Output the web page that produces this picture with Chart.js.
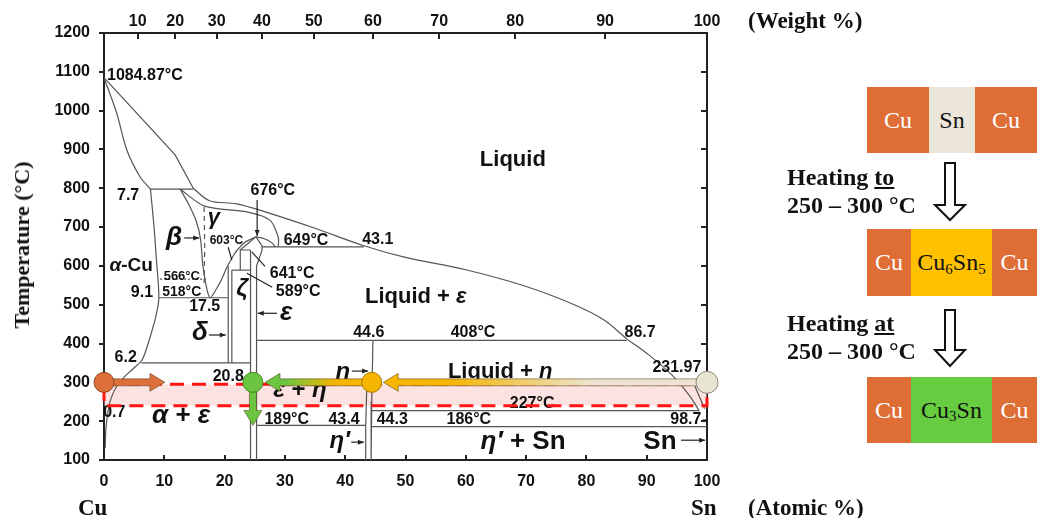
<!DOCTYPE html>
<html>
<head>
<meta charset="utf-8">
<script src="https://cdn.jsdelivr.net/npm/chart.js@4.4.1/dist/chart.umd.min.js"></script>
<style>
  body { margin: 0; background: #fff; width: 1044px; height: 518px; overflow: hidden; position: relative; font-family: "Liberation Serif", serif; color: #111; }
  #chart { position: absolute; left: 0; top: 0; }
  .lbl { position: absolute; font-weight: bold; font-size: 23px; white-space: nowrap; line-height: 1; }
  .ytitle { position: absolute; left: 22px; top: 245px; transform: translate(-50%, -50%) rotate(-90deg); font-weight: bold; font-size: 22px; white-space: nowrap; }
  .box { position: absolute; left: 867px; width: 170px; height: 66px; display: flex; }
  .box div { display: flex; align-items: center; justify-content: center; font-size: 24px; color: #111; }
  .box .cu { background: #de6d36; color: #fff; }
  .cap { position: absolute; left: 787px; font-weight: bold; font-size: 24px; line-height: 28px; white-space: nowrap; }
  sub { font-size: 15px; vertical-align: baseline; position: relative; top: 6px; line-height: 0; }
  svg { position: absolute; left: 0; top: 0; }
</style>
</head>
<body>
<canvas id="chart" width="1044" height="518"></canvas>

<div class="ytitle">Temperature (°C)</div>
<div class="lbl" style="left:748px; top:9px;">(Weight %)</div>
<div class="lbl" style="left:78px; top:496px;">Cu</div>
<div class="lbl" style="left:691px; top:496px;">Sn</div>
<div class="lbl" style="left:748px; top:496px;">(Atomic %)</div>

<div class="box" style="top:87px;">
  <div class="cu" style="width:62px;">Cu</div>
  <div style="width:46px; background:#ece6da;">Sn</div>
  <div class="cu" style="width:62px;">Cu</div>
</div>
<div class="cap" style="top:163px;">Heating <u>to</u><br>250 – 300 °C</div>
<div class="box" style="top:229px; height:67px;">
  <div class="cu" style="width:44px;">Cu</div>
  <div style="width:81px; background:#ffc000;">Cu<sub>6</sub>Sn<sub>5</sub></div>
  <div class="cu" style="width:45px;">Cu</div>
</div>
<div class="cap" style="top:309px;">Heating <u>at</u><br>250 – 300 °C</div>
<div class="box" style="top:377px;">
  <div class="cu" style="width:44px;">Cu</div>
  <div style="width:81px; background:#68cc40;">Cu<sub>3</sub>Sn</div>
  <div class="cu" style="width:45px;">Cu</div>
</div>
<svg width="1044" height="518">
  <polygon points="945,163 955,163 955,205 965,205 950,220 935,205 945,205" fill="#fff" stroke="#111" stroke-width="2"/>
  <polygon points="945,310 955,310 955,350 965,350 950,366 935,350 945,350" fill="#fff" stroke="#111" stroke-width="2"/>
</svg>

<script>
// top axis: weight % ticks placed at their atomic % position
const weightAt = [5.6, 11.8, 18.7, 26.2, 34.8, 44.6, 55.6, 68.2, 83.1, 100];
const weightLabels = ['10', '20', '30', '40', '50', '60', '70', '80', '90', '100'];

// phase boundaries [atomic % Sn, temperature °C]
const liquidusCu = [[0, 1084.87], [11.8, 886], [14.8, 800]];
const liquidusSn = [[14.8, 800], [17.5, 768], [22, 760], [27, 738], [35, 697], [43.1, 652], [50, 622], [60, 590], [70, 547], [78, 500], [83, 460], [86.7, 412], [90, 375], [94, 322], [97, 268], [98.7, 227]];
const solidusCu = [[0, 1084.87], [2.1, 994], [3.8, 898], [6, 829], [7.7, 798]];
const alphaSolvus = [[7.7, 798], [8.3, 700], [8.7, 615], [9.1, 518], [8.6, 470], [7.9, 430], [6.9, 380], [6.2, 355], [4.6, 332], [3.2, 311], [2.1, 290], [1.2, 260], [0.7, 229], [0.3, 177], [0.2, 130]];
const peritectic798 = [[7.7, 798], [14.8, 798]];
const betaGamma = [[12.6, 798], [14.0, 760], [15.3, 715], [16.0, 670], [16.4, 600], [17.0, 545], [17.6, 518], [18.6, 540], [19.5, 565], [20.4, 597], [21.4, 625], [22.1, 641], [23.4, 661], [25.2, 675]];
const domeRight = [[25.2, 675], [26.6, 670], [27.8, 660], [28.4, 649]];
const gammaSolidus = [[12.6, 798], [16.7, 754], [23.7, 739], [27.5, 718], [28.9, 674], [28.9, 649]];
const gammaOrder = [[16.6, 752], [16.7, 650], [16.6, 556]];
const line566 = [[9.3, 566], [17, 566]];
const line518 = [[9.1, 518], [20.6, 518]];
const line350 = [[6.2, 350], [24.3, 350]];
const deltaLeft = [[20.6, 350], [20.6, 600]];
const deltaRight = [[21.2, 350], [21.2, 589]];
const line589 = [[21.2, 589], [24.3, 589]];
const zetaTop = [[22.6, 589], [22.6, 641], [24.3, 641]];
const apexLeft = [[22.6, 641], [25.2, 675]];
const epsLeft = [[24.3, 100], [24.3, 641]];
const epsRight = [[25.3, 100], [25.3, 600], [26.2, 640], [26.2, 652], [25.2, 675]];
const line649 = [[26.2, 649], [43.1, 649]];
const line408 = [[25.3, 408], [86.7, 408]];
const etaRight = [[44.6, 408], [44.4, 250], [44.3, 100]];
const etaLeft = [[43.6, 300], [43.4, 189], [43.4, 100]];
const line189 = [[25.3, 189], [43.4, 189]];
const line227 = [[44.4, 227], [98.7, 227]];
const line186 = [[44.3, 186], [100, 186]];
const snSide = [[98, 290], [99.6, 232]];

// heating path: stage points and arrows
const stageX = [0, 24.7, 44.4, 100];
const stageT = [300, 300, 300, 300];
const arrowFrom = [[0, 300], [100, 300], [44.4, 300], [24.7, 300]];
const arrowTo = [[10.1, 300], [46.3, 300], [26.7, 300], [24.7, 189]];
const bandLow = 240, bandHigh = 295;

const stageFill = ['#dc6f3a', '#6cc540', '#f6b500', '#e8e4d2'];
const stageEdge = ['#8c4520', '#3f8a22', '#a87a00', '#8a877a'];
const arrowColors = [['#dc6f3a', '#dc6f3a'], ['#ebe5d2', '#f6b500'], ['#f6b500', '#6cc540'], ['#6cc540', '#6cc540']];

const boundaries = [
  { pts: liquidusCu }, { pts: liquidusSn, t: 0.35 }, { pts: solidusCu, t: 0.3 },
  { pts: alphaSolvus, t: 0.3 }, { pts: peritectic798 }, { pts: betaGamma, t: 0.3 },
  { pts: domeRight, t: 0.3 }, { pts: gammaSolidus, t: 0.3 }, { pts: gammaOrder, dash: [5, 4] },
  { pts: line566, dash: [2, 2] }, { pts: line518 }, { pts: line350 },
  { pts: deltaLeft }, { pts: deltaRight }, { pts: line589 }, { pts: zetaTop },
  { pts: apexLeft }, { pts: epsLeft }, { pts: epsRight }, { pts: line649 },
  { pts: line408 }, { pts: etaRight }, { pts: etaLeft }, { pts: line189 },
  { pts: line227 }, { pts: line186 }, { pts: snSide }
];

// text on the diagram: [text, atomic %, °C, size, align]
const notes = [
  ['1084.87°C', 0.5, 1089, 16, 'left'], ['7.7', 4.0, 782, 16], ['β', 11.6, 672, 26],
  ['γ', 18.2, 723, 22], ['603°C', 20.3, 664, 12], ['676°C', 28.0, 793, 16],
  ['649°C', 33.5, 664, 16], ['43.1', 45.4, 669, 16], ['Liquid', 67.8, 873, 22],
  ['α-Cu', 4.5, 600, 19], ['566°C', 12.9, 574, 13], ['518°C', 12.9, 533, 14],
  ['9.1', 6.3, 530, 16], ['17.5', 16.7, 494, 16], ['ζ', 22.9, 540, 24],
  ['641°C', 31.2, 581, 16], ['589°C', 32.2, 535, 16], ['δ', 15.9, 427, 26],
  ['ε', 30.2, 478, 26], ['Liquid + ε', 51.7, 520, 22], ['44.6', 43.9, 427, 16],
  ['408°C', 61.2, 427, 16], ['86.7', 88.9, 427, 16], ['6.2', 3.6, 365, 16],
  ['20.8', 20.6, 316, 16], ['η', 39.6, 326, 24], ['Liquid + η', 65.7, 326, 22],
  ['231.97', 95.0, 337, 16], ['ε + η', 32.5, 280, 24], ['227°C', 71.0, 246, 16],
  ['0.7', 1.7, 223, 16], ['α + ε', 12.8, 213, 26], ['189°C', 30.3, 205, 16],
  ['43.4', 39.8, 205, 16], ['44.3', 47.8, 205, 16], ['186°C', 60.5, 205, 16],
  ['98.7', 96.5, 203, 16], ['η′', 39.1, 148, 24], ['η′ + Sn', 69.5, 148, 26],
  ['Sn', 92.2, 146, 26]
];
const pointers = [
  [13.3, 672, 15.8, 672], [25.4, 770, 25.4, 677], [17.4, 422, 20.2, 422],
  [28.7, 478, 25.5, 478], [41.1, 329, 43.8, 329], [41.0, 146, 43.1, 146],
  [95.7, 151, 99.7, 151]
];
const leaders = [[20.6, 648, 21.2, 615], [26.7, 599, 24.5, 636], [27.9, 545, 23.7, 581], [99.3, 203, 100, 203]];

const FONT = '"Liberation Sans", Arial, sans-serif';

function richText(ctx, text, x, y, size, align) {
  const parts = text.split(/([α-ω]′?)/).filter(s => s.length);
  const fonts = parts.map(p => (/^[α-ω]/.test(p) ? 'italic bold ' : 'bold ') + size + 'px ' + FONT);
  let total = 0;
  const widths = parts.map((p, i) => { ctx.font = fonts[i]; const w = ctx.measureText(p).width; total += w; return w; });
  let cx = align === 'left' ? x : x - total / 2;
  ctx.textAlign = 'left';
  ctx.textBaseline = 'middle';
  parts.forEach((p, i) => { ctx.font = fonts[i]; ctx.fillText(p, cx, y); cx += widths[i]; });
}

function fatArrow(ctx, x1, y1, x2, y2, colors) {
  const len = Math.hypot(x2 - x1, y2 - y1);
  const ang = Math.atan2(y2 - y1, x2 - x1);
  const sw = 3.5, hw = 9, hl = 15;
  ctx.save();
  ctx.translate(x1, y1);
  ctx.rotate(ang);
  const g = ctx.createLinearGradient(0, 0, len, 0);
  g.addColorStop(0, colors[0]);
  g.addColorStop(0.35, colors[0]);
  g.addColorStop(0.8, colors[1]);
  g.addColorStop(1, colors[1]);
  ctx.beginPath();
  ctx.moveTo(0, -sw);
  ctx.lineTo(len - hl, -sw);
  ctx.lineTo(len - hl, -hw);
  ctx.lineTo(len, 0);
  ctx.lineTo(len - hl, hw);
  ctx.lineTo(len - hl, sw);
  ctx.lineTo(0, sw);
  ctx.closePath();
  ctx.fillStyle = g;
  ctx.fill();
  ctx.lineWidth = 0.8;
  ctx.strokeStyle = 'rgba(90,70,40,0.7)';
  ctx.stroke();
  ctx.restore();
}

const phasePlugin = {
  id: 'phasePlugin',
  beforeDatasetsDraw(chart) {
    const { ctx, chartArea: a, scales: { x, y } } = chart;
    const l = x.getPixelForValue(0), r = x.getPixelForValue(100);
    const t = y.getPixelForValue(bandHigh), b = y.getPixelForValue(bandLow);
    ctx.save();
    ctx.fillStyle = 'rgba(250, 185, 185, 0.42)';
    ctx.fillRect(l, t, r - l, b - t);

    // axis tick marks: outward on the left, inward elsewhere
    ctx.strokeStyle = '#222';
    ctx.lineWidth = 2;
    for (let v = 100; v <= 1200; v += 100) {
      const yy = Math.round(y.getPixelForValue(v));
      ctx.beginPath(); ctx.moveTo(a.left - 5, yy); ctx.lineTo(a.left, yy); ctx.stroke();
      ctx.beginPath(); ctx.moveTo(a.right - 6, yy); ctx.lineTo(a.right, yy); ctx.stroke();
    }
    for (let v = 0; v <= 100; v += 10) {
      const xx = Math.round(x.getPixelForValue(v));
      ctx.beginPath(); ctx.moveTo(xx, a.bottom); ctx.lineTo(xx, a.bottom - 5); ctx.stroke();
    }
    weightAt.forEach(v => {
      const xx = Math.round(x.getPixelForValue(v));
      ctx.beginPath(); ctx.moveTo(xx, a.top); ctx.lineTo(xx, a.top + 6); ctx.stroke();
    });
    ctx.restore();
  },
  afterDatasetDraw(chart, args) {
    if (args.index !== 1) return;
    const { ctx, scales: { x, y } } = chart;
    const px = v => x.getPixelForValue(v), py = v => y.getPixelForValue(v);
    ctx.save();
    ctx.fillStyle = '#111';
    notes.forEach(n => richText(ctx, n[0], px(n[1]), py(n[2]), n[3], n[4] || 'center'));

    ctx.strokeStyle = '#222';
    ctx.lineWidth = 1.2;
    leaders.forEach(a => {
      ctx.beginPath(); ctx.moveTo(px(a[0]), py(a[1])); ctx.lineTo(px(a[2]), py(a[3])); ctx.stroke();
    });
    pointers.forEach(a => {
      const x1 = px(a[0]), y1 = py(a[1]), x2 = px(a[2]), y2 = py(a[3]);
      const ang = Math.atan2(y2 - y1, x2 - x1);
      ctx.beginPath(); ctx.moveTo(x1, y1); ctx.lineTo(x2, y2); ctx.stroke();
      ctx.beginPath();
      ctx.moveTo(x2, y2);
      ctx.lineTo(x2 - 6 * Math.cos(ang) + 2.5 * Math.sin(ang), y2 - 6 * Math.sin(ang) - 2.5 * Math.cos(ang));
      ctx.lineTo(x2 - 6 * Math.cos(ang) - 2.5 * Math.sin(ang), y2 - 6 * Math.sin(ang) + 2.5 * Math.cos(ang));
      ctx.closePath(); ctx.fillStyle = '#222'; ctx.fill();
    });

    // band outline
    const l = px(0), r = px(100), t = py(bandHigh), b = py(bandLow);
    ctx.strokeStyle = '#ff1414';
    ctx.lineWidth = 3;
    ctx.setLineDash([14, 8]);
    ctx.strokeRect(l, t, r - l, b - t);
    ctx.setLineDash([]);

    arrowFrom.forEach((f, i) => {
      fatArrow(ctx, px(f[0]), py(f[1]), px(arrowTo[i][0]), py(arrowTo[i][1]), arrowColors[i]);
    });
    ctx.restore();
  }
};

const tickFont = { family: FONT, weight: 'bold', size: 16 };

new Chart(document.getElementById('chart'), {
  type: 'scatter',
  data: {
    datasets: [
      {
        label: 'stages',
        data: stageX.map((v, i) => ({ x: v, y: stageT[i] })),
        pointRadius: [10, 10, 10, 11],
        pointBackgroundColor: stageFill,
        pointBorderColor: stageEdge,
        pointBorderWidth: 1,
        showLine: false,
        clip: false,
        order: -1
      },
      ...boundaries.map(b => ({
        data: b.pts.map(p => ({ x: p[0], y: p[1] })),
        showLine: true,
        pointRadius: 0,
        borderColor: '#555',
        borderWidth: 1.2,
        borderDash: b.dash || [],
        tension: b.t || 0,
        fill: false,
        order: 0
      }))
    ]
  },
  options: {
    responsive: false,
    animation: false,
    events: [],
    layout: { padding: 0 },
    plugins: { legend: { display: false }, tooltip: { enabled: false } },
    scales: {
      x: {
        type: 'linear', position: 'bottom', min: 0, max: 100,
        ticks: { stepSize: 10, color: '#111', font: tickFont, padding: 12, maxRotation: 0 },
        grid: { display: false, drawTicks: false },
        border: { display: true, color: '#222', width: 2 },
        afterFit: s => { s.height = 58; }
      },
      x2: {
        type: 'linear', position: 'top', min: 0, max: 100,
        afterBuildTicks: s => { s.ticks = weightAt.map(v => ({ value: v })); },
        ticks: { autoSkip: false, color: '#111', font: tickFont, padding: 2, maxRotation: 0, callback: (v, i) => weightLabels[i] },
        grid: { display: false, drawTicks: false },
        border: { display: true, color: '#222', width: 2 },
        afterFit: s => { s.height = 33; }
      },
      y: {
        type: 'linear', position: 'left', min: 100, max: 1200,
        ticks: { stepSize: 100, color: '#111', font: tickFont, padding: 14, callback: v => String(v) },
        grid: { display: false, drawTicks: false },
        border: { display: true, color: '#222', width: 2 },
        afterFit: s => { s.width = 104; }
      },
      y2: {
        type: 'linear', position: 'right', min: 100, max: 1200,
        ticks: { display: false },
        grid: { display: false, drawTicks: false },
        border: { display: true, color: '#222', width: 2 },
        afterFit: s => { s.width = 337; }
      }
    }
  },
  plugins: [phasePlugin]
});
</script>
</body>
</html>
